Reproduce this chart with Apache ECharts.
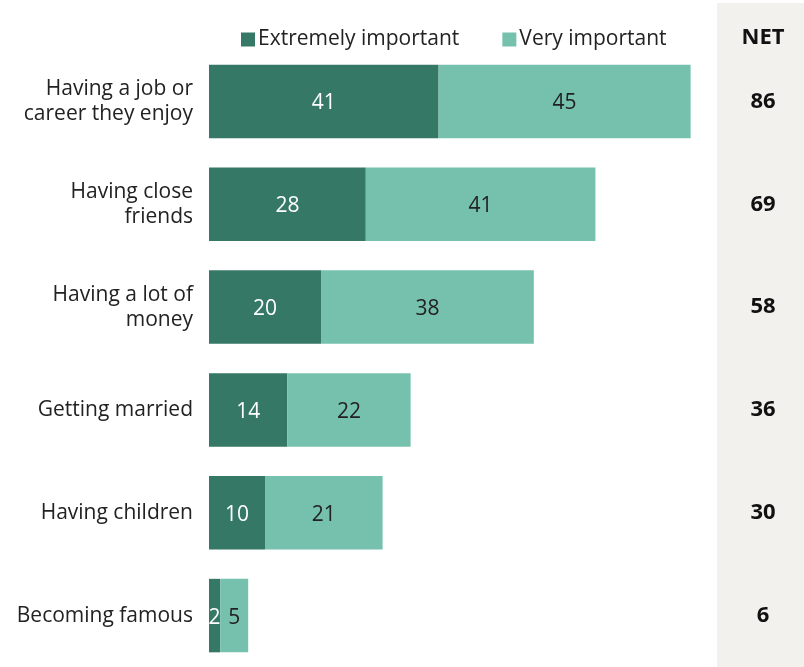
<!DOCTYPE html>
<html>
<head>
<meta charset="utf-8">
<script src="https://cdn.jsdelivr.net/npm/echarts@6/dist/echarts.min.js"></script>
<style>
  html, body { margin: 0; padding: 0; background: #fff; }
  #chart { width: 804px; height: 667px; }
</style>
</head>
<body>
<div id="chart"></div>
<script>
const categories = [
  'Having a job or\ncareer they enjoy',
  'Having close\nfriends',
  'Having a lot of\nmoney',
  'Getting married',
  'Having children',
  'Becoming famous'
];
const extremely = [41, 28, 20, 14, 10, 2];
const very = [45, 41, 38, 22, 21, 5];
const net = [86, 69, 58, 36, 30, 6];

const FONT = '"Open Sans", Roboto, sans-serif';
const SIZE = 21;
const chart = echarts.init(document.getElementById('chart'), null, { renderer: 'canvas' });

chart.setOption({
  animation: false,
  textStyle: { fontFamily: FONT },
  graphic: [
    { type: 'rect', z: -10, shape: { x: 717, y: 3, width: 87, height: 664 }, style: { fill: '#f2f1ed' } },
    { type: 'text', x: 763, y: 38, style: { text: 'NET', font: 'bold 22px ' + FONT, fill: '#111', align: 'center', verticalAlign: 'middle' } }
  ],
  legend: {
    left: 236, top: 24,
    itemWidth: 14, itemHeight: 14, itemGap: 43,
    icon: 'rect',
    textStyle: { fontSize: SIZE, color: '#222', fontFamily: FONT, padding: [0, 0, 0, -2] },
    data: ['Extremely important', 'Very important']
  },
  grid: { left: 209, top: 50, width: 560, height: 620 },
  xAxis: { type: 'value', min: 0, max: 100, show: false },
  yAxis: [
    {
      type: 'category', inverse: true, data: categories,
      axisLine: { show: false }, axisTick: { show: false },
      axisLabel: { fontSize: SIZE, color: '#222', lineHeight: 25, margin: 16, padding: [5, 0, 0, 0], fontFamily: FONT }
    },
    {
      type: 'category', inverse: true, data: net, position: 'right', offset: -6,
      axisLine: { show: false }, axisTick: { show: false },
      axisLabel: { fontSize: 22, fontWeight: 'bold', color: '#111', margin: 0, align: 'center', padding: [4, 0, 0, 0], fontFamily: FONT }
    }
  ],
  series: [
    {
      name: 'Extremely important', type: 'bar', stack: 'all', data: extremely, barWidth: 73.5,
      itemStyle: { color: '#367866' },
      label: { show: true, position: 'inside', offset: [0, 2], color: '#fff', fontSize: SIZE, fontFamily: FONT }
    },
    {
      name: 'Very important', type: 'bar', stack: 'all', data: very, barWidth: 73.5,
      itemStyle: { color: '#76c0ae' },
      label: { show: true, position: 'inside', offset: [0, 2], color: '#222', fontSize: SIZE, fontFamily: FONT }
    }
  ]
});
</script>
</body>
</html>
